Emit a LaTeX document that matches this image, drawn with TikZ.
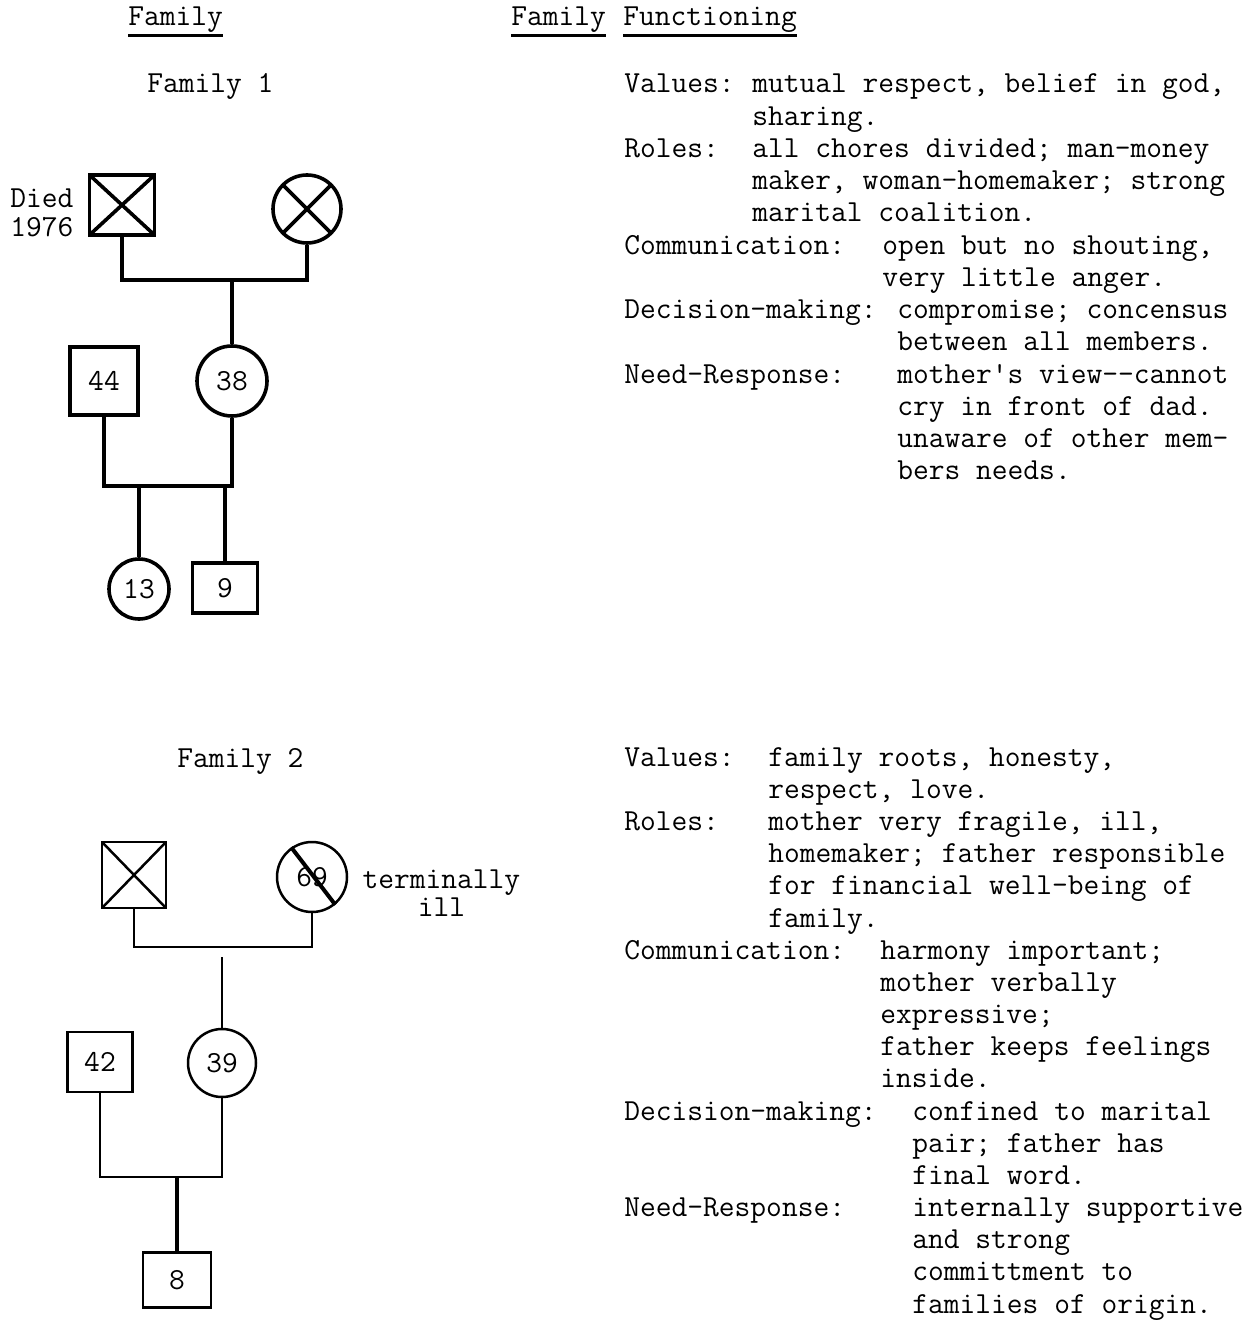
\documentclass[tikz,border=0pt]{standalone}
\usepackage{fontspec}
\usetikzlibrary{positioning}
\newcommand\typew{\fontsize{15.3}{16.1}\selectfont\ttfamily}
\newcommand\typeaside{\fontsize{15.3}{14.2}\selectfont\ttfamily\lineskiplimit=-10pt}
\newcommand\fieldtext[1]{\begin{tabular}[t]{@{}l@{}}#1\end{tabular}}
\tikzset{
  kin/.style={line width=1.8pt},
  kinthin/.style={line width=1.25pt},
  male/.style={draw,rectangle,minimum width=32pt,minimum height=32pt,inner sep=0pt,font=\typew},
  female/.style={draw,circle,minimum size=34pt,inner sep=0pt,font=\typew},
  dead/.style={path picture={\draw (path picture bounding box.north west) -- (path picture bounding box.south east)
                                   (path picture bounding box.south west) -- (path picture bounding box.north east);}},
  field/.style={anchor=base west,inner sep=0pt,font=\typew},
  head/.style={anchor=base west,inner sep=0pt,font=\typew},
  uline/.style={line width=1.2pt},
  aside/.style={inner sep=0pt,font=\typeaside,align=left}
}
\begin{document}
\begin{tikzpicture}[x=0.5pt,y=-0.5pt]
  \useasboundingbox (0,0) rectangle (1244,1320);

  % column headings
  \node[head] (hfam) at (128,26) {Family};
  \node[head] (hff) at (511,26) {Family};
  \node[head] (hfn) at (623,26) {Functioning};
  \foreach \h in {hfam,hff,hfn}
    \draw[uline] ([yshift=-1pt]\h.south west) -- ([yshift=-1pt]\h.south east);

  % family 1 genogram
  \node[head] (f1) at (147,93) {Family 1};
  \node[male,dead,kin,minimum width=32.5pt,minimum height=30pt] (d1) at (122,205) {};
  \node[female,dead,kin] (m1) at (307,209) {};
  \node[aside,left=7pt of d1,yshift=-4pt] (died) {Died\\1976};
  \node[male,kin,minimum size=34pt] (p44) at (104,381) {44};
  \node[female,kin,minimum size=35pt] (p38) at (232,381) {38};
  \node[female,kin,minimum size=30pt] (p13) at (139,589) {13};
  \node[male,kin,minimum width=32.5pt,minimum height=25pt] (p9) at (225,588) {9};
  \coordinate (u1) at (232,280);
  \coordinate (u2) at (139,486);
  \coordinate (u3) at (225,486);
  \draw[kin] (d1) |- (u1) -| (m1);
  \draw[kin] (u1) -- (p38);
  \draw[kin] (p44) |- (u2) -- (u3) -| (p38);
  \draw[kin] (u2) -- (p13);
  \draw[kin] (u3) -- (p9);

  % family 1 functioning
  \node[field] (val1) at (624,93) {Values:};
  \node[field] (val1t) at (752,93) {\fieldtext{mutual respect, belief in god,\\sharing.}};
  \node[field] (rol1) at (624,157.5) {Roles:};
  \node[field] (rol1t) at (752,157.5) {\fieldtext{all chores divided; man-money\\maker, woman-homemaker; strong\\marital coalition.}};
  \node[field] (com1) at (624,254.25) {Communication:};
  \node[field] (com1t) at (882,254.25) {\fieldtext{open but no shouting,\\very little anger.}};
  \node[field] (dec1) at (624,318.75) {Decision-making:};
  \node[field] (dec1t) at (897,318.75) {\fieldtext{compromise; concensus\\between all members.}};
  \node[field] (need1) at (624,383.25) {Need-Response:};
  \node[field] (need1t) at (897,383.25) {\fieldtext{mother's view-{}-cannot\\cry in front of dad.\\unaware of other mem-\\bers needs.}};

  % family 2 genogram
  \node[head] (f2) at (177,767) {Family 2};
  \node[male,dead,kinthin,minimum width=32pt,minimum height=33pt] (d2) at (134,875) {};
  \node[female,kinthin,minimum size=35pt] (m2) at (312,877) {69};
  \draw[line width=2pt] (m2.125) -- (m2.-50);
  \node[aside,align=center,right=7pt of m2,yshift=-8pt] (ill) {terminally\\ill};
  \node[male,kinthin,minimum width=32.5pt,minimum height=30pt] (p42) at (100,1062) {42};
  \node[female,kinthin,minimum size=34pt] (p39) at (222,1063) {39};
  \node[male,kinthin,minimum width=34pt,minimum height=27.5pt] (p8) at (177,1280) {8};
  \coordinate (u4) at (222,947);
  \coordinate (u5) at (177,1177);
  \draw[kinthin] (d2) |- (u4) -| (m2);
  \draw[kinthin,shorten <=5pt] (u4) -- (p39);
  \draw[kinthin] (p42) |- (u5) -| (p39);
  \draw[line width=2.2pt] (u5) -- (p8);

  % family 2 functioning
  \node[field] (val2) at (624,766) {Values:};
  \node[field] (val2t) at (768,766) {\fieldtext{family roots, honesty,\\respect, love.}};
  \node[field] (rol2) at (624,830.4) {Roles:};
  \node[field] (rol2t) at (768,830.4) {\fieldtext{mother very fragile, ill,\\homemaker; father responsible\\for financial well-being of\\family.}};
  \node[field] (com2) at (624,959.1) {Communication:};
  \node[field] (com2t) at (880,959.1) {\fieldtext{harmony important;\\mother verbally\\expressive;\\father keeps feelings\\inside.}};
  \node[field] (dec2) at (624,1120) {Decision-making:};
  \node[field] (dec2t) at (912,1120) {\fieldtext{confined to marital\\pair; father has\\final word.}};
  \node[field] (need2) at (624,1216.5) {Need-Response:};
  \node[field] (need2t) at (912,1216.5) {\fieldtext{internally supportive\\and strong\\committment to\\families of origin.}};
\end{tikzpicture}
\end{document}
